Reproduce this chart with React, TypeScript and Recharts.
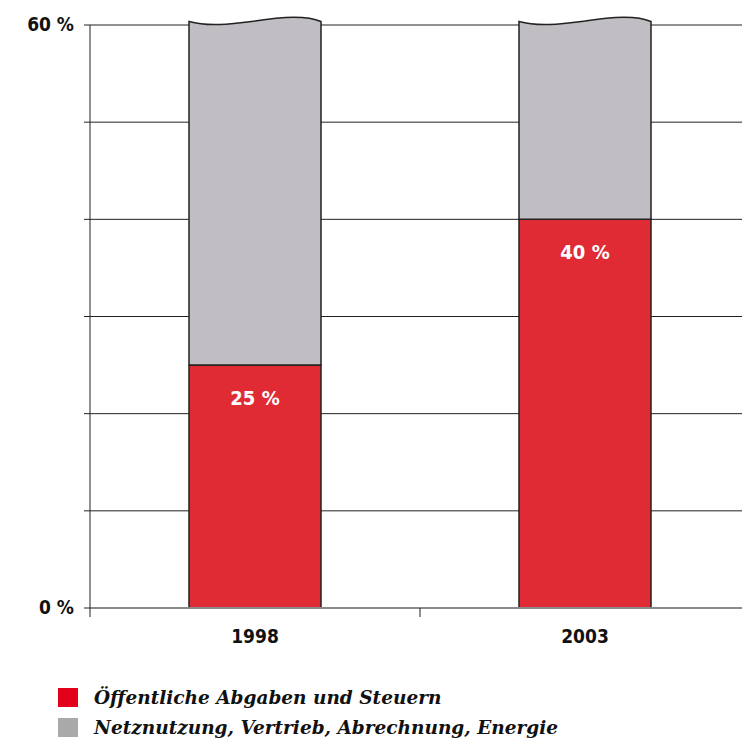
import React from "react";
import { BarChart, Bar, XAxis, YAxis, CartesianGrid, Legend, LabelList } from "recharts";

const years = ["1998", "2003"];
const publicShare = [25, 40];
const otherShare = [35, 20];
const yTicks = [0, 10, 20, 30, 40, 50, 60];
const labeledTicks = [0, 60];
const seriesNames = ["Öffentliche Abgaben und Steuern", "Netznutzung, Vertrieb, Abrechnung, Energie"];
const legendColors = ["#E2001A", "#A9A9A9"];

const data = years.map((year, i) => ({ year, pub: publicShare[i], other: otherShare[i] }));

const numFont = "'DejaVu Sans Condensed', 'DejaVu Sans', sans-serif";
const numStyle = { fontStretch: "condensed" } as React.CSSProperties;

// gray bar with the wavy "axis break" edge on top
const WavyBar = (props: any) => {
  const { x, y, width: w, height: h, fill } = props;
  const d = `M${x},${y + h} L${x},${y - 3.5}
    C${x + 0.15 * w},${y + 2} ${x + 0.32 * w},${y - 1} ${x + 0.5 * w},${y - 4}
    C${x + 0.68 * w},${y - 8} ${x + 0.88 * w},${y - 10.5} ${x + w},${y - 3.5}
    L${x + w},${y + h} Z`;
  return <path d={d} fill={fill} stroke="#222" strokeWidth={1.5} />;
};

const YTick = (props: any) => {
  const { x, y, payload } = props;
  if (!labeledTicks.includes(payload.value)) return null;
  return (
    <text x={x - 8} y={y} dy={6} textAnchor="end" fontFamily={numFont} style={numStyle} fontWeight="bold" fontSize={19} fill="#111">
      {payload.value} %
    </text>
  );
};

const XTick = (props: any) => {
  const { x, y, payload } = props;
  const band = 165;
  return (
    <g>
      <line x1={x - band} x2={x - band} y1={y - 8} y2={y + 1} stroke="#222" strokeWidth={1} />
      <text x={x} y={y + 27} textAnchor="middle" fontFamily={numFont} style={numStyle} fontWeight="bold" fontSize={19} fill="#111">
        {payload.value}
      </text>
    </g>
  );
};

const BarLabel = (props: any) => {
  const { x, y, width, value } = props;
  return (
    <text x={x + width / 2} y={y + 33} dy={7} textAnchor="middle" fontFamily={numFont} style={numStyle} fontWeight="bold" fontSize={20} fill="#fff">
      {value} %
    </text>
  );
};

const LegendBox = () => (
  <div style={{ fontFamily: "'DejaVu Serif', serif", fontStyle: "italic", fontWeight: 700, fontSize: 18.5, color: "#111" }}>
    {seriesNames.map((name, i) => (
      <div key={name} style={{ display: "flex", alignItems: "center", height: 30 }}>
        <span style={{ display: "inline-block", width: 20, height: 19, background: legendColors[i], marginRight: 16 }} />
        <span>{name}</span>
      </div>
    ))}
  </div>
);

export default function App(): JSX.Element {
  return (
    <div style={{ width: 742, height: 744, overflow: "hidden", position: "relative", background: "#fff" }}>
      <style>{"body{margin:0}"}</style>
      <BarChart width={750} height={744} data={data} margin={{ top: 25, right: 0, left: 0, bottom: 136 - 30 }} barSize={132}>
        <CartesianGrid horizontal vertical={false} stroke="#222" strokeWidth={1} />
        <XAxis dataKey="year" height={30} axisLine={{ stroke: "#8a8a8a", strokeWidth: 2 }} tickLine={false} tick={<XTick />} interval={0} />
        <YAxis
          width={90}
          domain={[0, 60]}
          ticks={yTicks}
          interval={0}
          axisLine={{ stroke: "#222", strokeWidth: 1 }}
          tickLine={{ stroke: "#222" }}
          tickSize={6}
          tick={<YTick />}
        />
        <Legend
          layout="vertical"
          align="center"
          verticalAlign="middle"
          wrapperStyle={{ top: 682, left: 58, width: 640 }}
          content={<LegendBox />}
        />
        <Bar dataKey="pub" name={seriesNames[0]} stackId="a" fill="#E02B35" stroke="#222" strokeWidth={1.5} isAnimationActive={false}>
          <LabelList dataKey="pub" content={<BarLabel />} />
        </Bar>
        <Bar dataKey="other" name={seriesNames[1]} stackId="a" fill="#C0BEC3" shape={<WavyBar />} isAnimationActive={false} />
      </BarChart>
    </div>
  );
}
